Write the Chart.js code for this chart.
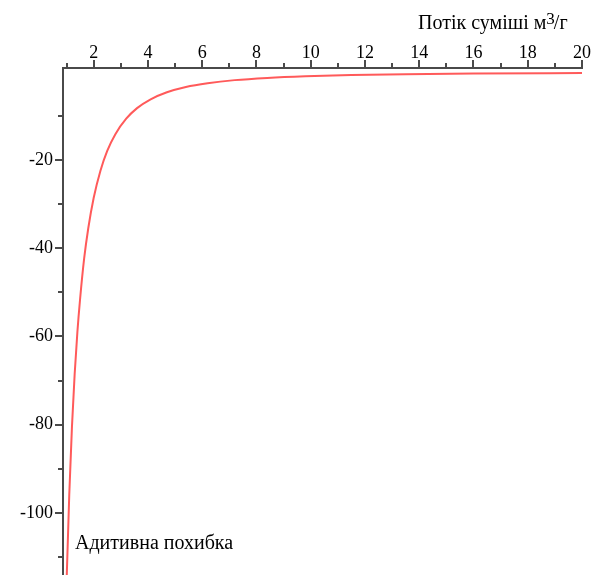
<!DOCTYPE html>
<html>
<head>
<meta charset="utf-8">
<script src="https://cdn.jsdelivr.net/npm/chart.js@4/dist/chart.umd.min.js"></script>
<style>
  body { margin: 0; background: #fff; }
  canvas { display: block; }
</style>
</head>
<body>
<canvas id="myChart" width="592" height="575"></canvas>
<script>
  // valores

  let flujo = [0.95, 1.0, 1.1, 1.2, 1.3, 1.4, 1.5, 1.65, 1.8, 2.0, 2.25, 2.5, 2.8, 3.2, 3.6, 4.1, 4.7, 5.4, 6.2, 7.2, 8.4, 9.8, 11.5, 13.5, 16, 20];
  let error = [-128, -116, -96, -80.5, -68.5, -59, -51.5, -42.3, -35.5, -28.6, -22.4, -17.9, -14.1, -10.6, -8.2, -6.2, -4.6, -3.4, -2.55, -1.85, -1.35, -0.98, -0.7, -0.5, -0.36, -0.24];
  let ticksX = [1, 2, 3, 4, 5, 6, 7, 8, 9, 10, 11, 12, 13, 14, 15, 16, 17, 18, 19, 20];
  let ticksY = [-110, -100, -90, -80, -70, -60, -50, -40, -30, -20, -10];
  let tituloX = ['Потік суміші м', '3', '/г'];
  let tituloY = 'Адитивна похибка';

  let ctx = document.getElementById("myChart").getContext('2d');
  let colorEje = '#4a4a4a';
  let fuente = { family: 'Liberation Serif', size: 18 };

  // plugin para marcas de los ejes y textos

  const marcas = {
    id: 'marcas',
    afterDraw(chart) {
      const c = chart.ctx;
      const x = chart.scales.x;
      const y = chart.scales.y;
      c.save();
      c.strokeStyle = colorEje;
      c.lineWidth = 2;
      for (const v of ticksX) {
        const px = Math.round(x.getPixelForValue(v));
        const largo = v % 2 === 0 ? 8 : 5;
        c.beginPath();
        c.moveTo(px, chart.chartArea.top);
        c.lineTo(px, chart.chartArea.top - largo);
        c.stroke();
      }
      for (const v of ticksY) {
        const py = Math.round(y.getPixelForValue(v));
        const largo = v % 20 === 0 ? 8 : 5;
        c.beginPath();
        c.moveTo(chart.chartArea.left, py);
        c.lineTo(chart.chartArea.left - largo, py);
        c.stroke();
      }
      c.fillStyle = '#000';
      c.font = '20px "Liberation Serif"';
      c.textBaseline = 'alphabetic';
      c.textAlign = 'left';
      // titulo eje x con superindice
      let xt = 418;
      c.fillText(tituloX[0], xt, 29);
      xt += c.measureText(tituloX[0]).width;
      c.font = '17px "Liberation Serif"';
      c.fillText(tituloX[1], xt, 24);
      xt += c.measureText(tituloX[1]).width - 1;
      c.font = '20px "Liberation Serif"';
      c.fillText(tituloX[2], xt, 29);
      c.fillText(tituloY, chart.chartArea.left + 12, 549);
      c.restore();
    }
  };

  const data = {
    datasets: [{
      label: tituloY,
      data: flujo.map((f, i) => ({ x: f, y: error[i] })),
      borderColor: 'rgb(255, 90, 90)',
      borderWidth: 2,
      pointRadius: 0,
      cubicInterpolationMode: 'monotone',
      fill: false
    }]
  };

  const config = {
    type: 'line',
    data,
    options: {
      responsive: false,
      animation: false,
      layout: { padding: { left: 0, right: 10, top: 0, bottom: 0 } },
      plugins: { legend: { display: false }, tooltip: { enabled: false } },
      scales: {
        x: {
          type: 'linear',
          position: 'top',
          min: 0.87,
          max: 20,
          afterFit: (s) => { s.height = 68; s.paddingLeft = 0; s.paddingRight = 0; },
          afterBuildTicks: (s) => { s.ticks = ticksX.map(v => ({ value: v })); },
          grid: { drawOnChartArea: false, drawTicks: false },
          border: { color: colorEje, width: 2 },
          ticks: {
            color: '#000',
            font: fuente,
            padding: 4,
            maxRotation: 0,
            autoSkip: false,
            callback: (v) => v % 2 === 0 ? String(v) : ''
          }
        },
        y: {
          min: -114.1,
          max: 0.9,
          afterFit: (s) => { s.width = 63; s.paddingTop = 0; s.paddingBottom = 0; },
          afterBuildTicks: (s) => { s.ticks = ticksY.map(v => ({ value: v })); },
          grid: { drawOnChartArea: false, drawTicks: false },
          border: { color: colorEje, width: 2 },
          ticks: {
            color: '#000',
            font: fuente,
            padding: 10,
            autoSkip: false,
            callback: (v) => v % 20 === 0 ? String(v) : ''
          }
        }
      }
    },
    plugins: [marcas]
  };

  let myChart = new Chart(ctx, config);
</script>
</body>
</html>
